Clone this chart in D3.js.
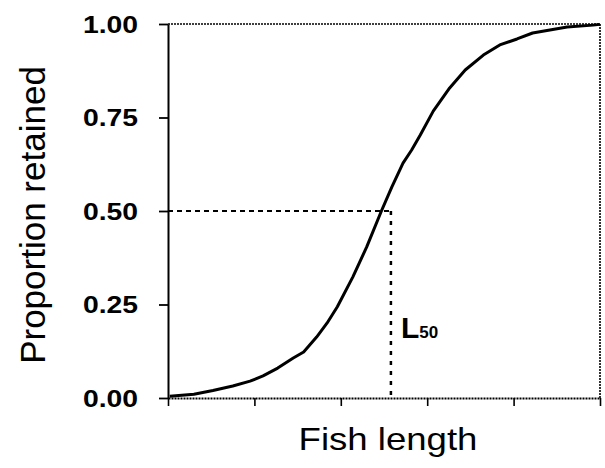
<!DOCTYPE html>
<html>
<head>
<meta charset="utf-8">
<script src="https://cdn.jsdelivr.net/npm/d3@7"></script>
<style>
  html, body { margin: 0; padding: 0; background: #fff; }
  svg { display: block; font-family: "Liberation Sans", Arial, sans-serif; }
</style>
</head>
<body>
<svg id="chart" width="605" height="468"></svg>
<script>
// Selection (retention) curve: length in arbitrary units vs proportion retained
const lengths = [0.02, 0.3, 0.52, 0.75, 0.95, 1.1, 1.27, 1.45, 1.57, 1.72, 1.84, 1.96,
                 2.14, 2.3, 2.47, 2.59, 2.72, 2.82, 2.92, 3.07, 3.26, 3.44, 3.65,
                 3.84, 4.04, 4.22, 4.42, 4.62, 4.92, 5.0];
const retained = [0.005, 0.01, 0.02, 0.032, 0.045, 0.059, 0.08, 0.107, 0.123, 0.163, 0.2, 0.244,
                  0.324, 0.404, 0.5, 0.564, 0.628, 0.663, 0.703, 0.767, 0.829, 0.877, 0.917,
                  0.944, 0.96, 0.976, 0.984, 0.992, 0.997, 0.999];
const xTicks = [0, 1, 2, 3, 4, 5];
const yTicks = [0, 0.25, 0.5, 0.75, 1];
const yTickLabels = ["0.00", "0.25", "0.50", "0.75", "1.00"];
const l50 = 2.58;
const l50Prop = 0.5;

const svg = d3.select("#chart");
const margin = { left: 168, top: 24, right: 5, bottom: 70 };
const W = 605, H = 468;
const x = d3.scaleLinear().domain([0, 5]).range([margin.left, W - margin.right]);
const y = d3.scaleLinear().domain([0, 1]).range([H - margin.bottom, margin.top]);
const stretch = 1.18;

// top and right frame, dotted
svg.append("path")
  .attr("d", `M${x(0)},${y(1)}H${x(5)}V${y(0)}`)
  .attr("fill", "none").attr("stroke", "#000")
  .attr("stroke-width", 1.6).attr("stroke-dasharray", "2,1");

// x axis
const gx = svg.append("g").attr("transform", `translate(0,${y(0)})`)
  .call(d3.axisBottom(x).tickValues(xTicks).tickFormat("").tickSize(8).tickSizeOuter(0));
gx.select(".domain").attr("stroke-width", 1.8).attr("stroke-dasharray", "2,1");
gx.selectAll(".tick line").attr("stroke-width", 1.6);

// y axis (ticks only; labels drawn below)
const gy = svg.append("g").attr("transform", `translate(${x(0)},0)`)
  .call(d3.axisLeft(y).tickValues(yTicks).tickFormat("").tickSize(9).tickSizeOuter(0));
gy.select(".domain").attr("stroke-width", 2);
gy.selectAll(".tick line").attr("stroke-width", 1.8);

// y tick labels, bold and slightly widened
svg.append("g").selectAll("text")
  .data(yTicks)
  .join("text")
  .attr("transform", d => `translate(${x(0) - 30},${y(d)}) scale(${stretch},1)`)
  .attr("text-anchor", "end")
  .attr("dy", "0.36em")
  .attr("fill", "#000")
  .style("font-size", "24px")
  .style("font-weight", "bold")
  .text((d, i) => yTickLabels[i]);

// L50 reference lines
svg.append("line")
  .attr("x1", x(0)).attr("x2", x(l50))
  .attr("y1", y(l50Prop)).attr("y2", y(l50Prop))
  .attr("stroke", "#000").attr("stroke-width", 2.2).attr("stroke-dasharray", "5,4");
svg.append("line")
  .attr("x1", x(l50)).attr("x2", x(l50))
  .attr("y1", y(l50Prop)).attr("y2", y(0))
  .attr("stroke", "#000").attr("stroke-width", 2.5).attr("stroke-dasharray", "4,6");

// retention curve
const pts = lengths.map((d, i) => [d, retained[i]]);
svg.append("path")
  .datum(pts)
  .attr("d", d3.line().x(d => x(d[0])).y(d => y(d[1])))
  .attr("fill", "none").attr("stroke", "#000")
  .attr("stroke-width", 3).attr("stroke-linejoin", "round");

// L50 label
const lab = svg.append("text")
  .attr("x", x(l50) + 10).attr("y", y(0.16))
  .attr("fill", "#000").style("font-weight", "bold");
lab.append("tspan").style("font-size", "30px").text("L");
lab.append("tspan").style("font-size", "17px").text("50");

// axis titles
svg.append("text")
  .attr("transform", `translate(388,450) scale(${stretch},1)`)
  .attr("text-anchor", "middle")
  .style("font-size", "31px")
  .attr("fill", "#000")
  .text("Fish length");

svg.append("text")
  .attr("transform", "translate(45,215) rotate(-90)")
  .attr("text-anchor", "middle")
  .style("font-size", "35px")
  .attr("fill", "#000")
  .text("Proportion retained");
</script>
</body>
</html>
